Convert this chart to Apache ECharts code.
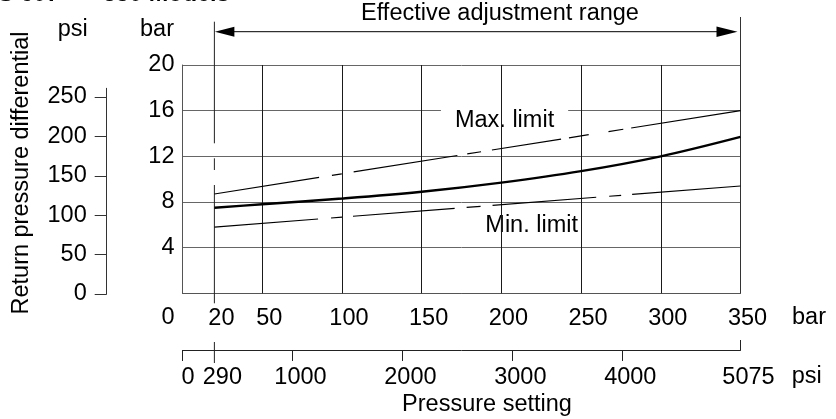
<!DOCTYPE html>
<html><head><meta charset="utf-8">
<script src="https://cdn.jsdelivr.net/npm/echarts@6/dist/echarts.min.js"></script>
<style>html,body{margin:0;padding:0;background:#fff}#c{width:836px;height:419px}</style>
</head><body><div id="c"></div>
<script>
// ---- data ----
const axisOrigin = 0;
const barAxisLabels = [20, 50, 100, 150, 200, 250, 300, 350];
const psiAxisLabels = [290, 1000, 2000, 3000, 4000, 5075];
const psiAxisTicks = [0, 1000, 2000, 3000, 4000];
const psiLeftTicks = [0, 50, 100, 150, 200, 250];
const verticalGrid = [50, 100, 150, 200, 250, 300];
const settingBar = [20, 50, 100, 150, 200, 250, 300, 350];
const returnDiff = [7.5, 7.8, 8.3, 8.9, 9.7, 10.7, 12.0, 13.7];
const limitBar = [20, 350];
const maxLimit = [8.7, 16.0];
const minLimit = [5.8, 9.4];
const rangeBar = [20, 350];
const rangePsi = [290, 5075];

const FONT = "'Liberation Sans', Arial, Helvetica, sans-serif";
const FS = 23.5;
const txt = { fontFamily: FONT, fontSize: FS, color: '#000', lineHeight: 24 };

const chart = echarts.init(document.getElementById('c'), null, { renderer: 'canvas' });

const option = {
  animation: false,
  backgroundColor: '#fff',
  grid: [
    { left: 182.5, right: 95.5, top: 65, bottom: 125.7 },
    { left: 182.5, right: 95.5, top: 349, height: 1 },
    { left: 106.7, width: 10, top: 88.3, bottom: 125 }
  ],
  xAxis: [
    { gridIndex: 0, type: 'value', min: 0, max: 350,
      axisLine: { show: true, lineStyle: { color: '#555', width: 1 } },
      axisTick: { show: false }, splitLine: { show: false },
      axisLabel: { customValues: barAxisLabels, margin: 13, showMinLabel: true, showMaxLabel: true, hideOverlap: false,
        formatter: v => '{n|' + v + '}',
        rich: { n: Object.assign({ padding: [0, 0, 0, 14] }, txt) } } },
    { gridIndex: 1, type: 'value', min: 0, max: 5075, position: 'bottom',
      axisLine: { show: true, lineStyle: { color: '#222', width: 1 } },
      axisTick: { show: true, customValues: psiAxisTicks, length: 11, lineStyle: { color: '#222' } },
      splitLine: { show: false },
      axisLabel: { customValues: psiAxisLabels, margin: 16, showMinLabel: true, showMaxLabel: true, hideOverlap: false,
        formatter: v => '{n|' + v + '}',
        rich: { n: Object.assign({ padding: [0, 0, 0, 16] }, txt) } } },
    { gridIndex: 2, type: 'value', min: 0, max: 1, show: false }
  ],
  yAxis: [
    { gridIndex: 0, type: 'value', min: 0, max: 20, interval: 4,
      axisLine: { show: true, lineStyle: { color: '#555', width: 1 } },
      axisTick: { show: false },
      splitLine: { show: true, lineStyle: { color: '#666', width: 1 } },
      axisLabel: Object.assign({ margin: 8, showMinLabel: false, formatter: v => v === 0 ? '' : String(v) }, txt) },
    { gridIndex: 1, type: 'value', show: false, min: 0, max: 1 },
    { gridIndex: 2, type: 'value', min: 0, max: 261, position: 'left',
      axisLine: { show: true, lineStyle: { color: '#333', width: 1 } },
      axisTick: { show: true, customValues: psiLeftTicks, length: 12, lineStyle: { color: '#333' } },
      splitLine: { show: false },
      axisLabel: Object.assign({ customValues: psiLeftTicks, margin: 20, showMinLabel: true, showMaxLabel: true }, txt) }
  ],
  series: [
    { name: 'grid', type: 'line', xAxisIndex: 0, yAxisIndex: 0, data: [], z: 1, silent: true,
      markLine: { silent: true, symbol: ['none', 'none'], label: { show: false },
        lineStyle: { color: '#1a1a1a', width: 1, type: 'solid' },
        emphasis: { disabled: true },
        data: verticalGrid.map(v => ({ xAxis: v })) } },
    { name: 'Min. limit', type: 'line', xAxisIndex: 0, yAxisIndex: 0, z: 5, silent: true,
      symbol: 'none',
      lineStyle: { color: '#000', width: 1.2, type: [104, 13, 11, 11, 102, 12, 14, 12, 104, 13, 12, 11, 200] },
      data: limitBar.map((x, i) => [x, minLimit[i]]) },
    { name: 'Max. limit', type: 'line', xAxisIndex: 0, yAxisIndex: 0, z: 5, silent: true,
      symbol: 'none',
      lineStyle: { color: '#000', width: 1.2, type: [106, 13, 10, 12, 105, 10, 14, 11, 70, 8, 20, 20, 15, 8, 200] },
      data: limitBar.map((x, i) => [x, maxLimit[i]]) },
    { name: 'Return pressure differential', type: 'line', xAxisIndex: 0, yAxisIndex: 0, z: 6, silent: true,
      symbol: 'none', smooth: 0.35,
      lineStyle: { color: '#000', width: 2.4 },
      data: settingBar.map((x, i) => [x, returnDiff[i]]) }
  ]
};
chart.setOption(option);

const px = v => chart.convertToPixel({ xAxisIndex: 0 }, v);
const py = v => chart.convertToPixel({ yAxisIndex: 0 }, v);
const ppx = v => chart.convertToPixel({ xAxisIndex: 1 }, v);
const x20 = px(rangeBar[0]), x350 = px(rangeBar[1]);
const yBot = py(0);
const psiY = 350;
const arrowY = 31.7;

function T(text, x, y, extra) {
  return Object.assign({ type: 'text', z: 10, silent: true,
    style: Object.assign({ text, x, y, fill: '#000', font: FS + 'px ' + FONT, align: 'center', verticalAlign: 'middle' }, extra || {}) });
}

const g = [
  { type: 'line', z: 4, silent: true, shape: { x1: x20, y1: 21.7, x2: x20, y2: yBot + 10 },
    style: { stroke: '#222', lineWidth: 1, lineDash: [121.6, 15, 11.7, 15, 400] } },
  { type: 'line', z: 4, silent: true, shape: { x1: x350, y1: 17, x2: x350, y2: yBot },
    style: { stroke: '#333', lineWidth: 1 } },
  { type: 'line', z: 4, silent: true, shape: { x1: x20 + 10, y1: arrowY, x2: x350 - 12, y2: arrowY },
    style: { stroke: '#000', lineWidth: 1 } },
  { type: 'polygon', z: 4, silent: true, shape: { points: [[x20 + 0.5, arrowY], [x20 + 20, arrowY - 5], [x20 + 20, arrowY + 5]] },
    style: { fill: '#000' } },
  { type: 'polygon', z: 4, silent: true, shape: { points: [[x350 - 3, arrowY], [x350 - 24, arrowY - 5.3], [x350 - 24, arrowY + 5.3]] },
    style: { fill: '#000' } },
  { type: 'line', z: 4, silent: true, shape: { x1: ppx(rangePsi[0]), y1: psiY - 8, x2: ppx(rangePsi[0]), y2: psiY + 13 },
    style: { stroke: '#222', lineWidth: 1 } },
  { type: 'line', z: 4, silent: true, shape: { x1: ppx(rangePsi[1]), y1: psiY - 10, x2: ppx(rangePsi[1]), y2: psiY },
    style: { stroke: '#222', lineWidth: 1 } },
  // shared origin labels of the two pressure-setting scales
  T(String(axisOrigin), px(axisOrigin) - 14.5, 318),
  T(String(axisOrigin), ppx(axisOrigin) + 5.5, 378),
  T('S 607 –', -2, -5, { font: 'bold ' + FS + 'px ' + FONT, align: 'left' }),
  T('350 Models', 103, -5, { font: 'bold ' + FS + 'px ' + FONT, align: 'left' }),
  T('Effective adjustment range', 500, 14),
  T('psi', 72.7, 30),
  T('bar', 157, 30),
  T('bar', 809, 317.5),
  T('psi', 806.7, 377),
  T('Pressure setting', 487, 405),
  Object.assign(T('Return pressure differential', 0, 0), { x: 21.5, y: 173, rotation: Math.PI / 2 }),
  Object.assign(T('Max. limit', px(202), py(15.1), { backgroundColor: '#fff', padding: [6, 14, 6, 14] }), { z: 3 }),
  Object.assign(T('Min. limit', px(219), py(5.9), { backgroundColor: '#fff', padding: [5, 12, 5, 12] }), { z: 3 })
];
chart.setOption({ graphic: g });
</script>
</body></html>
